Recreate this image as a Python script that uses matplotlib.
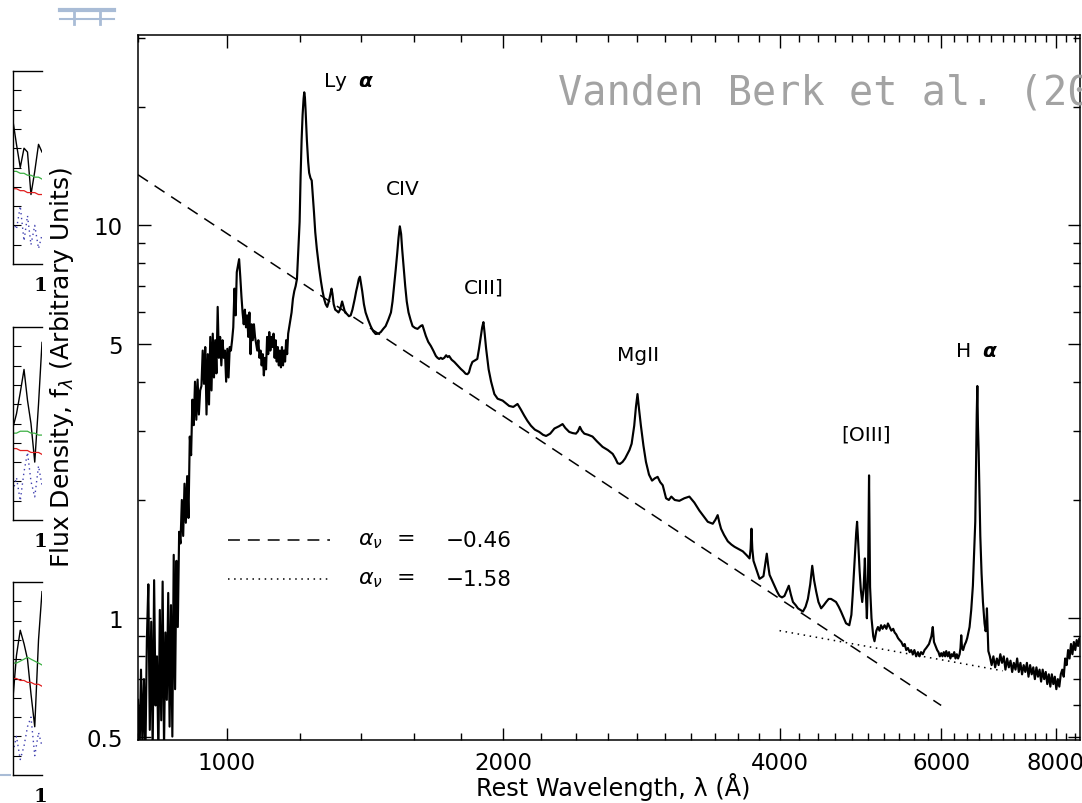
import matplotlib
matplotlib.use("Agg")
import matplotlib.pyplot as plt
from matplotlib.lines import Line2D
from matplotlib.ticker import FixedLocator, FixedFormatter, NullFormatter

# composite quasar spectrum (wavelength in A, f_lambda)
forest_wave = [800, 803, 806, 809, 812, 815, 818, 821, 824, 827, 830, 833, 836, 839, 842, 845,
               848, 851, 854, 857, 860, 863, 866, 869, 872, 875, 878, 881, 884, 887, 890, 893,
               896, 899, 902, 905, 908, 911, 914, 917, 920, 923, 926, 929, 932, 935, 938, 941,
               944, 947, 950, 953, 956, 959, 962, 965, 968, 971, 974, 977, 980, 983, 986, 989,
               992, 995, 998, 1001, 1004, 1007, 1010, 1013, 1016, 1019, 1022, 1025, 1028, 1031,
               1034, 1037, 1040, 1043, 1046, 1049, 1052, 1055, 1058, 1061, 1064, 1067, 1070,
               1073, 1076, 1079, 1082, 1085, 1088, 1091, 1094, 1097, 1100, 1103, 1106, 1109,
               1112, 1115, 1118, 1121, 1124, 1127, 1130, 1133, 1136, 1139, 1142, 1145, 1148,
               1151, 1154, 1157, 1160, 1163, 1166, 1169, 1172, 1176, 1180, 1184, 1188, 1192, 1196]
forest_flux = [0.62, 0.44, 0.74, 0.47, 0.70, 0.45, 0.88, 1.22, 0.52, 0.98, 0.46, 1.25, 0.60, 0.80,
               0.45, 1.05, 0.55, 1.24, 0.47, 0.92, 0.62, 1.16, 0.53, 1.08, 0.50, 1.45, 0.66, 1.40,
               0.95, 1.66, 1.55, 2.0, 1.62, 2.2, 1.75, 2.3, 1.80, 2.9, 2.6, 3.6, 3.1, 4.0, 3.2,
               4.05, 3.3, 3.8, 3.9, 4.8, 3.95, 4.9, 3.3, 4.7, 3.5, 5.2, 3.8, 5.3, 4.1, 5.1, 4.2,
               6.2, 4.6, 5.2, 4.4, 5.1, 4.6, 4.8, 4.0, 4.85, 4.1, 4.9, 4.8, 5.1, 5.5, 6.9, 5.9,
               7.6, 7.9, 8.2, 7.4, 6.6, 6.0, 5.6, 6.1, 5.5, 5.9, 5.2, 6.0, 4.7, 5.6, 5.1, 5.6,
               5.2, 5.0, 4.8, 5.1, 4.6, 4.8, 4.4, 4.7, 4.15, 4.6, 4.3, 5.2, 4.7, 5.35, 4.8, 5.2,
               4.9, 5.3, 4.6, 5.1, 4.5, 4.9, 4.4, 4.8, 4.35, 4.9, 4.4, 4.8, 4.5, 5.1, 4.7, 5.3,
               5.5, 5.7, 6.0, 6.5, 6.8, 7.0, 7.3, 8.6]

uv_wave = [1200, 1203, 1206, 1209, 1212, 1214, 1216, 1218, 1222, 1226, 1229, 1233, 1237, 1240,
           1244, 1248, 1253, 1260, 1266, 1271, 1276, 1281, 1286, 1290, 1295, 1300, 1303, 1307,
           1312, 1318, 1323, 1328, 1335, 1340, 1345, 1351, 1358, 1364, 1370, 1378, 1383, 1387,
           1392, 1396, 1400, 1404, 1410, 1416, 1425, 1434, 1443, 1452, 1462, 1471, 1480, 1489,
           1499, 1509, 1515, 1520, 1527, 1533, 1538, 1543, 1548, 1552, 1558, 1564, 1570, 1577,
           1585, 1593, 1603, 1613, 1620, 1627, 1633, 1640, 1647, 1657, 1668, 1678, 1689, 1696,
           1703, 1710, 1717, 1725, 1733, 1740, 1746, 1757, 1769, 1783, 1798, 1810, 1820, 1828,
           1835, 1843, 1851, 1860, 1874, 1882, 1891, 1897, 1903, 1909, 1916, 1928, 1940, 1956,
           1972, 1985, 1997, 2015, 2030, 2051, 2073, 2090, 2108, 2125, 2144, 2165, 2189, 2210,
           2227, 2250, 2274, 2300, 2321, 2337, 2360, 2380, 2400, 2412, 2424, 2436, 2451, 2475,
           2502, 2530, 2566, 2600, 2632, 2650, 2665, 2680, 2698, 2715, 2731, 2745, 2760, 2778,
           2790, 2801, 2812, 2825, 2843, 2861, 2883, 2905, 2925, 2946, 2965, 2984]
uv_flux = [10.2, 13.4, 16.5, 19.1, 21.0, 21.8, 21.2, 19.7, 16.5, 14.5, 13.6, 13.2, 13.0, 12.0,
           10.8, 9.6, 8.7, 7.8, 7.2, 6.8, 6.5, 6.3, 6.2, 6.35, 6.6, 6.9, 6.7, 6.3, 6.1, 6.05,
           6.0, 6.1, 6.4, 6.2, 6.0, 5.95, 5.87, 5.9, 6.1, 6.5, 6.8, 7.0, 7.3, 7.4, 7.1, 6.8,
           6.3, 6.0, 5.75, 5.54, 5.38, 5.29, 5.3, 5.35, 5.45, 5.54, 5.75, 6.0, 6.4, 6.9, 7.7,
           8.5, 9.3, 9.94, 9.5, 8.7, 7.8, 7.0, 6.4, 6.0, 5.75, 5.54, 5.48, 5.45, 5.5, 5.55,
           5.57, 5.4, 5.23, 5.05, 4.93, 4.8, 4.65, 4.6, 4.57, 4.6, 4.57, 4.6, 4.67, 4.62, 4.65,
           4.55, 4.49, 4.40, 4.31, 4.25, 4.19, 4.18, 4.22, 4.38, 4.49, 4.52, 4.57, 4.85, 5.23,
           5.5, 5.67, 5.3, 4.85, 4.3, 4.0, 3.72, 3.62, 3.6, 3.58, 3.52, 3.47, 3.45, 3.51, 3.4,
           3.28, 3.18, 3.09, 3.02, 2.98, 2.93, 2.91, 2.95, 3.04, 3.08, 3.12, 3.05, 2.98, 2.96,
           2.95, 2.99, 3.07, 3.0, 2.95, 2.93, 2.90, 2.82, 2.73, 2.68, 2.62, 2.55, 2.48, 2.47,
           2.50, 2.55, 2.62, 2.68, 2.78, 3.09, 3.45, 3.72, 3.4, 3.09, 2.75, 2.50, 2.32, 2.24,
           2.27, 2.29, 2.22, 2.18]

opt_wave = [3009, 3030, 3049, 3075, 3111, 3150, 3190, 3230, 3271, 3305, 3341, 3383, 3405, 3425,
            3440, 3454, 3480, 3513, 3545, 3573, 3610, 3648, 3680, 3710, 3720, 3728, 3736, 3747,
            3775, 3804, 3825, 3842, 3860, 3874, 3888, 3901, 3925, 3950, 3975, 3999, 4025, 4050,
            4075, 4094, 4115, 4137, 4165, 4189, 4215, 4242, 4270, 4295, 4320, 4342, 4362, 4385,
            4410, 4440, 4470, 4496, 4525, 4552, 4580, 4609, 4640, 4667, 4700, 4726, 4765, 4790,
            4805, 4820, 4834, 4848, 4859, 4870, 4890, 4905, 4922, 4940, 4955, 4968, 4980, 4995,
            5007, 5020, 5038, 5060, 5076, 5100, 5120, 5140, 5160, 5180, 5206, 5230, 5250, 5272,
            5295, 5320, 5339, 5360, 5385, 5406, 5430, 5455, 5475, 5497, 5520, 5545, 5565, 5589,
            5610, 5635, 5660, 5683, 5705, 5730, 5755, 5779, 5800, 5820, 5837, 5855, 5875, 5893,
            5916, 5940, 5960, 5980, 6001, 6020, 6040, 6060, 6077, 6100, 6120, 6140, 6160, 6179,
            6200, 6220, 6240, 6260, 6284, 6298, 6310, 6322, 6340, 6363, 6385, 6405, 6425, 6443,
            6470, 6497, 6520, 6536, 6548, 6560, 6570, 6580, 6592, 6605, 6619, 6640, 6663, 6690,
            6708, 6720, 6730, 6740, 6754]
opt_flux = [2.02, 2.0, 2.04, 2.0, 1.99, 2.02, 2.04, 1.97, 1.88, 1.82, 1.76, 1.74, 1.78, 1.83,
            1.75, 1.69, 1.63, 1.57, 1.54, 1.52, 1.50, 1.48, 1.45, 1.42, 1.5, 1.69, 1.5, 1.40,
            1.33, 1.26, 1.27, 1.28, 1.38, 1.46, 1.36, 1.29, 1.25, 1.21, 1.17, 1.14, 1.13, 1.14,
            1.18, 1.21, 1.15, 1.10, 1.08, 1.06, 1.05, 1.04, 1.07, 1.12, 1.22, 1.36, 1.25, 1.17,
            1.10, 1.06, 1.08, 1.10, 1.12, 1.12, 1.11, 1.10, 1.07, 1.04, 1.0, 0.971, 0.96, 1.02,
            1.14, 1.3, 1.48, 1.65, 1.76, 1.6, 1.32, 1.18, 1.10, 1.2, 1.42, 1.15, 1.0, 1.3,
            2.31, 1.2, 1.0, 0.9, 0.874, 0.93, 0.95, 0.93, 0.96, 0.94, 0.96, 0.94, 0.97, 0.95,
            0.93, 0.94, 0.92, 0.91, 0.89, 0.88, 0.87, 0.85, 0.86, 0.83, 0.84, 0.82, 0.83, 0.81,
            0.83, 0.80, 0.82, 0.80, 0.82, 0.81, 0.83, 0.84, 0.85, 0.86, 0.88, 0.90, 0.95, 0.87,
            0.85, 0.83, 0.82, 0.80, 0.815, 0.80, 0.82, 0.80, 0.825, 0.80, 0.82, 0.79, 0.81, 0.80,
            0.82, 0.79, 0.81, 0.79, 0.81, 0.84, 0.905, 0.84, 0.83, 0.855, 0.87, 0.89, 0.92, 0.95,
            1.05, 1.21, 1.5, 1.76, 2.4, 3.3, 3.9, 3.1, 2.65, 2.1, 1.62, 1.3, 1.10, 0.97,
            0.927, 0.95, 1.06, 0.95, 0.825]

red_wave = [6780, 6810, 6840, 6870, 6900, 6930, 6960, 6990, 7020, 7050, 7080, 7110, 7140, 7170,
            7200, 7230, 7260, 7290, 7320, 7350, 7380, 7410, 7440, 7470, 7500, 7530, 7560, 7590,
            7620, 7650, 7680, 7710, 7740, 7770, 7800, 7830, 7860, 7890, 7920, 7950, 7980, 8010,
            8040, 8070, 8100, 8130, 8160, 8190, 8220, 8250, 8280, 8310, 8340, 8370, 8400, 8430,
            8460, 8490, 8520]
red_flux = [0.80, 0.76, 0.80, 0.75, 0.79, 0.76, 0.81, 0.77, 0.80, 0.74, 0.79, 0.75, 0.78, 0.73,
            0.77, 0.74, 0.79, 0.73, 0.77, 0.72, 0.76, 0.73, 0.77, 0.71, 0.76, 0.72, 0.75, 0.70,
            0.75, 0.71, 0.74, 0.69, 0.74, 0.70, 0.73, 0.68, 0.72, 0.67, 0.72, 0.68, 0.71, 0.66,
            0.70, 0.67, 0.72, 0.74, 0.71, 0.79, 0.76, 0.83, 0.79, 0.86, 0.81, 0.87, 0.83, 0.88,
            0.85, 0.89, 0.87]

# power-law continua
dash_wave = [800, 6000]
dash_flux = [13.45, 0.60]
dot_wave = [4000, 7000]
dot_flux = [0.93, 0.735]

line_names = ['Ly  $\\boldsymbol{\\alpha}$', 'CIV', 'CIII]', 'MgII', '[OIII]',
              'H  $\\boldsymbol{\\alpha}$']
alpha_labels = ['$\\alpha_\\nu$  =', '$\\alpha_\\nu$  =']
alpha_values = ['\u22120.46', '\u22121.58']

x_major = [1000, 2000, 4000, 6000, 8000]
x_minor = [w for w in range(800, 8600, 200) if w not in x_major]
y_major = [0.5, 1, 5, 10]
y_minor = [0.6, 0.7, 0.8, 0.9, 2, 3, 4, 6, 7, 8, 9, 20, 30]

# bits of the neighbouring panels cut off at the left edge
frag_x = [0, 0.12, 0.25, 0.38, 0.5, 0.62, 0.75, 0.88, 1.0]
frag_black = [[0.74, 0.62, 0.50, 0.60, 0.58, 0.36, 0.48, 0.62, 0.58],
              [0.48, 0.55, 0.66, 0.78, 0.62, 0.50, 0.30, 0.60, 0.92],
              [0.40, 0.62, 0.75, 0.68, 0.60, 0.42, 0.25, 0.70, 0.95]]
frag_green = [[0.48, 0.48, 0.47, 0.47, 0.46, 0.46, 0.45, 0.45, 0.44],
              [0.45, 0.45, 0.46, 0.46, 0.46, 0.45, 0.45, 0.44, 0.44],
              [0.58, 0.58, 0.59, 0.60, 0.61, 0.60, 0.59, 0.58, 0.57]]
frag_red = [[0.39, 0.39, 0.38, 0.38, 0.37, 0.37, 0.37, 0.36, 0.36],
            [0.37, 0.37, 0.36, 0.36, 0.36, 0.35, 0.35, 0.35, 0.34],
            [0.50, 0.50, 0.49, 0.49, 0.48, 0.48, 0.47, 0.47, 0.46]]
frag_blue = [[0.22, 0.18, 0.30, 0.12, 0.25, 0.10, 0.20, 0.08, 0.15],
             [0.15, 0.22, 0.10, 0.25, 0.35, 0.20, 0.12, 0.28, 0.18],
             [0.12, 0.20, 0.08, 0.15, 0.25, 0.30, 0.10, 0.22, 0.15]]

W, H = 1082, 804
fig = plt.figure(figsize=(W / 100, H / 100), dpi=100)
fig.patch.set_facecolor('white')

ax_left, ax_right, ax_top, ax_bot = 138, 1080, 36, 741
ax = fig.add_axes([ax_left / W, 1 - ax_bot / H, (ax_right - ax_left) / W, (ax_bot - ax_top) / H])
ax.set_xscale('log')
ax.set_yscale('log')

wave = forest_wave + uv_wave + opt_wave + red_wave
flux = forest_flux + uv_flux + opt_flux + red_flux
ax.plot(dash_wave, dash_flux, color='black', lw=1.1, linestyle=(0, (7.8, 5.2)), zorder=2)
ax.plot(dot_wave, dot_flux, color='black', lw=1.1, linestyle=(0, (1, 3)), zorder=2)
ax.plot(wave, flux, color='black', lw=1.55, zorder=3)

ax.set_xlim(800, 8500)
ax.set_ylim(0.49, 30.5)

ax.xaxis.set_major_locator(FixedLocator(x_major))
ax.xaxis.set_major_formatter(FixedFormatter([str(v) for v in x_major]))
ax.xaxis.set_minor_locator(FixedLocator(x_minor))
ax.xaxis.set_minor_formatter(NullFormatter())
ax.yaxis.set_major_locator(FixedLocator(y_major))
ax.yaxis.set_major_formatter(FixedFormatter(['0.5', '1', '5', '10']))
ax.yaxis.set_minor_locator(FixedLocator(y_minor))
ax.yaxis.set_minor_formatter(NullFormatter())

ax.tick_params(which='both', direction='in', top=True, right=True, width=1.0,
               labelsize=16.5, colors='black')
ax.tick_params(which='major', length=9)
ax.tick_params(which='minor', length=5)
ax.tick_params(axis='y', pad=11)
ax.tick_params(axis='x', pad=8)
for sp in ax.spines.values():
    sp.set_linewidth(1.1)

ax.set_xlabel('Rest Wavelength, \u03bb (\u00c5)', fontsize=17.3)
ax.xaxis.set_label_coords(0.505, -0.046)
ax.set_ylabel('Flux Density, f$_\\lambda$ (Arbitrary Units)', fontsize=18)
ax.yaxis.set_label_coords(-0.066, 0.53)

name_pos = [(0.2235, 0.935), (0.2813, 0.7816), (0.3673, 0.6426), (0.5308, 0.5461),
            (0.7728, 0.434), (0.8907, 0.5518)]
for name, (px, py) in zip(line_names, name_pos):
    ax.text(px, py, name, transform=ax.transAxes, fontsize=14.5, ha='center', va='center')

# key for the two power laws
key_y = [0.2837, 0.2284]
key_styles = [(0, (7.8, 5.2)), (0, (1, 3))]
for ky, ls, lab, val in zip(key_y, key_styles, alpha_labels, alpha_values):
    ax.plot([0.0955, 0.2038], [ky, ky], transform=ax.transAxes, color='black', lw=1.1,
            linestyle=ls)
    ax.text(0.2335, ky, lab, transform=ax.transAxes, fontsize=16, va='center', ha='left')
    ax.text(0.327, ky, val, transform=ax.transAxes, fontsize=15.5, va='center', ha='left')

fig.text(558 / W, 1 - 105 / H, 'Vanden Berk et al. (2001)', family='DejaVu Sans Mono',
         fontsize=29, color='#a3a3a3', ha='left', va='baseline')

# neighbouring panel fragments
panel_tops = [72, 328, 583]
for i, top in enumerate(panel_tops):
    pa = fig.add_axes([13 / W, 1 - (top + 193) / H, 29 / W, 193 / H])
    pa.plot(frag_x, frag_black[i], color='black', lw=1.0)
    pa.plot(frag_x, frag_green[i], color='#3cb043', lw=0.9)
    pa.plot(frag_x, frag_red[i], color='#e02020', lw=0.9)
    pa.plot(frag_x, frag_blue[i], color='#4040b0', lw=1.0, linestyle=(0, (1, 2.5)))
    pa.set_xlim(0, 1)
    pa.set_ylim(0, 1)
    pa.spines['right'].set_visible(False)
    for sp in ['left', 'top', 'bottom']:
        pa.spines[sp].set_linewidth(1.0)
    pa.set_yticks([0.1, 0.2, 0.3, 0.4, 0.5, 0.6, 0.7, 0.8, 0.9])
    pa.set_xticks([])
    pa.tick_params(axis='y', direction='in', length=6, width=0.8, labelleft=False)
    fig.text(40 / W, 1 - (top + 214) / H, '1', family='DejaVu Serif', weight='bold',
             fontsize=14, ha='center', va='center')

# light blue scraps of the page around the figure
scrap_color = '#a9bcd6'
fig.add_artist(Line2D([60 / W, 114 / W], [1 - 11 / H, 1 - 11 / H], color=scrap_color, lw=3))
fig.add_artist(Line2D([60 / W, 114 / W], [1 - 20 / H, 1 - 20 / H], color=scrap_color, lw=1.5))
fig.add_artist(Line2D([74 / W, 74 / W], [1 - 11 / H, 1 - 25 / H], color=scrap_color, lw=2))
fig.add_artist(Line2D([100 / W, 100 / W], [1 - 11 / H, 1 - 25 / H], color=scrap_color, lw=2))
fig.add_artist(Line2D([0, 10 / W], [1 - 776 / H, 1 - 776 / H], color=scrap_color, lw=1.5))

fig.savefig('out.png', dpi=100, facecolor='white')
